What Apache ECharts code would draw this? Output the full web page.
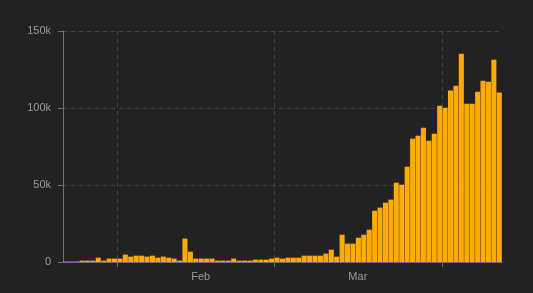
<!DOCTYPE html>
<html>
<head>
<meta charset="utf-8">
<script src="https://cdn.jsdelivr.net/npm/echarts@6/dist/echarts.min.js"></script>
<style>
  html, body { margin: 0; padding: 0; background: #222222; }
  #chart { width: 533px; height: 293px; }
</style>
</head>
<body>
<div id="chart"></div>
<script>
// Day offsets from 2020-01-22 (first bar)
const startDate = '2020-01-22';
// Daily new cases (thousands), one per day starting at startDate
const dailyCasesK = [
  0.3, 0.3, 0.3, 0.9, 0.9, 0.9, 2.8, 0.9, 2.2, 2.2, 2.2, 4.8, 3.5, 4.1, 4.1, 3.5, 4.1, 2.8, 3.5, 2.8,
  2.2, 0.9, 15.2, 6.7, 2.2, 2.2, 2.2, 2.2, 0.9, 0.9, 0.9, 2.2, 0.9, 0.9, 0.9, 1.5, 1.5, 1.5, 2.2, 2.8,
  2.2, 2.8, 2.8, 2.8, 4.1, 4.1, 4.1, 4.1, 5.4, 8.0, 3.5, 17.7, 11.9, 11.9, 15.8, 17.7, 21.0, 33.3, 35.3, 38.5,
  40.5, 51.5, 50.2, 61.9, 80.1, 82.0, 87.2, 78.8, 83.3, 101.5, 100.2, 111.3, 114.5, 135.3, 102.8, 102.8, 110.6, 117.7, 117.1, 131.4, 110.0
];
// Month boundaries (Feb 1, Mar 1, Apr 1) as day offsets
const monthStartDays = [10, 39, 70];
// Month labels and the day offsets where they are centred
const monthLabels = ['Feb', 'Mar'];
const monthLabelDays = [25.4, 54.4];
// Y tick labels
const yTicks = [0, 50000, 100000, 150000];
const yTickLabels = ['0', '50k', '100k', '150k'];

const barData = dailyCasesK.map((v, i) => [i + 0.5, v * 1000]);

const chart = echarts.init(document.getElementById('chart'), null, { renderer: 'canvas' });
const textStyle = { color: '#9a9a9a', fontSize: 11, fontFamily: 'Liberation Sans, Arial, sans-serif' };

chart.setOption({
  backgroundColor: '#222222',
  animation: false,
  grid: { left: 63, right: 31, top: 31, bottom: 31, containLabel: false, outerBoundsMode: 'none' },
  xAxis: {
    type: 'value',
    min: 0,
    max: dailyCasesK.length,
    axisLine: { show: true, lineStyle: { color: '#6f6f6f', width: 1 } },
    axisTick: { show: true, length: 5, customValues: monthStartDays, lineStyle: { color: '#6f6f6f' } },
    splitLine: { show: true, lineStyle: { color: '#444444', type: [4, 4], width: 1 } },
    axisLabel: Object.assign({
      customValues: monthLabelDays,
      margin: 9,
      formatter: function (v) {
        const idx = monthLabelDays.findIndex(d => Math.abs(d - v) < 0.01);
        return idx >= 0 ? monthLabels[idx] : '';
      }
    }, textStyle)
  },
  yAxis: {
    type: 'value',
    min: 0,
    max: 150000,
    interval: 50000,
    axisLine: { show: true, lineStyle: { color: '#6f6f6f', width: 1 } },
    axisTick: { show: true, length: 5, lineStyle: { color: '#6f6f6f' } },
    splitLine: { show: true, lineStyle: { color: '#444444', type: [4, 4], width: 1 } },
    axisLabel: Object.assign({
      margin: 12,
      formatter: function (v) {
        const idx = yTicks.indexOf(v);
        return idx >= 0 ? yTickLabels[idx] : '';
      }
    }, textStyle)
  },
  series: [{
    type: 'bar',
    data: barData,
    barCategoryGap: '7%',
    itemStyle: { color: '#ffab00' },
    emphasis: { disabled: true }
  }]
});
</script>
</body>
</html>
